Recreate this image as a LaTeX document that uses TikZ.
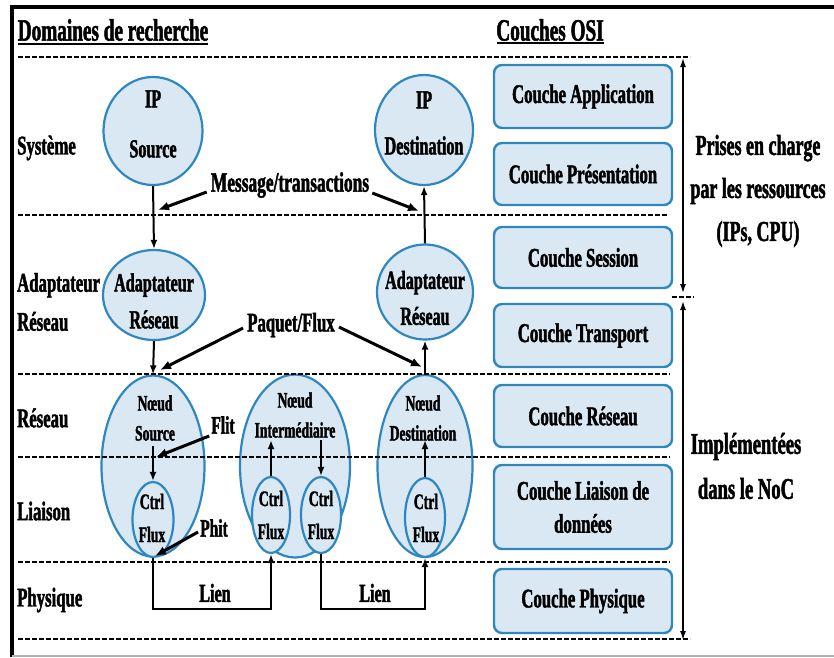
\documentclass[tikz,border=0pt]{standalone}
\usepackage{fontspec}
\setmainfont{Liberation Serif}[FakeStretch=0.62, BoldFeatures={FakeBold=1.6}]
\usetikzlibrary{arrows.meta,shapes.geometric}

\definecolor{cellfill}{HTML}{DAE8F3}
\definecolor{cellline}{HTML}{2F87C0}

\tikzset{
  tx/.style 2 args={inner sep=0pt, align=center, font=\bfseries\fontsize{#1}{#2}\selectfont},
  bub/.style 2 args={ellipse, draw=cellline, fill=cellfill, line width=2.2pt,
    inner sep=0pt, minimum width=#1, minimum height=#2},
  layerbox/.style={draw=cellline, fill=cellfill, line width=2.4pt, rounded corners=8pt,
    minimum width=178pt, inner sep=0pt, align=center,
    font=\bfseries\fontsize{27}{33}\selectfont},
  sepline/.style={dashed, dash pattern=on 5pt off 2pt, line width=1.4pt},
  varrow/.style={line width=2pt, -{Latex[length=9pt,width=7pt]}},
  bigarrow/.style={line width=3pt, -{Latex[length=11pt,width=9pt]}},
  dblarrow/.style={line width=1.4pt, {Latex[length=9pt,width=6pt]}-{Latex[length=9pt,width=6pt]}},
}

\begin{document}
\begin{tikzpicture}[x=1pt, y=-1pt]
\useasboundingbox (0,0) rectangle (834,657);
\fill[white] (0,0) rectangle (834,657);

% outer frame: heavy rule on top and left, light rule at the bottom
\draw[line width=4.5pt, line join=miter] (12,657) -- (12,7) -- (834,7);
\draw[gray!60, line width=2pt] (12,656) -- (834,656);

% column headings
\node[tx={31}{31}] (hdom) at (113,30) {Domaines de recherche};
\draw[line width=2pt] (18,44) -- (208,44);
\node[tx={31}{31}] (hosi) at (550,30) {Couches OSI};
\draw[line width=2pt] (497,43) -- (604,43);

% research-domain row labels
\node[tx={27}{27}, anchor=west] (lsys) at (17,148) {Système};
\node[tx={27}{39}, anchor=west, align=left] (lada) at (17,302) {Adaptateur\\Réseau};
\node[tx={27}{27}, anchor=west] (lres) at (17,418) {Réseau};
\node[tx={27}{27}, anchor=west] (llia) at (17,511) {Liaison};
\node[tx={27}{27}, anchor=west] (lphy) at (17,600) {Physique};

% IP cores and network adapters
\node[bub={99pt}{108pt}] (ipsrc) at (153,131) {};
\node[bub={98pt}{110pt}] (ipdst) at (424,130) {};
\node[bub={102pt}{90pt}] (adsrc) at (154,295) {};
\node[bub={96pt}{95pt}] (addst) at (425,292) {};

% NoC routers and their flow-control units
\node[bub={103pt}{181pt}] (nsrc) at (153,466) {};
\node[bub={110pt}{183pt}] (nint) at (295,466) {};
\node[bub={95pt}{182pt}] (ndst) at (425,466) {};
\node[bub={41pt}{75pt}] (csrc) at (153,519.5) {};
\node[bub={38pt}{76pt}] (cint1) at (271,515) {};
\node[bub={40pt}{76pt}] (cint2) at (321,515) {};
\node[bub={40pt}{79pt}] (cdst) at (425,517.5) {};

% OSI layers
\node[layerbox, minimum height=63pt] (oapp) at (583,96.5) {Couche Application};
\node[layerbox, minimum height=62pt] (opre) at (583,174) {Couche Présentation};
\node[layerbox, minimum height=61pt] (oses) at (583,257.5) {Couche Session};
\node[layerbox, minimum height=63pt] (otra) at (583,335.5) {Couche Transport};
\node[layerbox, minimum height=62pt] (ores) at (583,416) {Couche Réseau};
\node[layerbox, minimum height=84pt] (olia) at (583,507) {Couche Liaison de\\données};
\node[layerbox, minimum height=64pt] (ophy) at (583,601) {Couche Physique};

% layer separators
\draw[sepline] (18,57) -- (690,57);
\draw[sepline] (18,215) -- (668,215);
\draw[sepline] (18,374) -- (670,374);
\draw[sepline] (18,457) -- (670,457);
\draw[sepline] (18,562) -- (670,562);
\draw[sepline] (18,639) -- (690,639);
\draw[sepline] (672,297) -- (694,297);

% texts inside the bubbles
\node[tx={26}{50}] (ipsrct) at (153,124) {IP\\Source};
\node[tx={26}{46}] (ipdstt) at (424,123) {IP\\Destination};
\node[tx={26}{37}] (adsrct) at (154,301) {Adaptateur\\Réseau};
\node[tx={26}{36}] (addstt) at (425,298) {Adaptateur\\Réseau};
\node[tx={22}{30}] (nsrct) at (155,418) {Nœud\\Source};
\node[tx={22}{30}] (nintt) at (295,415) {Nœud\\Intermédiaire};
\node[tx={22}{30}] (ndstt) at (423,418) {Nœud\\Destination};
\node[tx={22}{33}] (csrct) at (152,518) {Ctrl\\Flux};
\node[tx={22}{33}] (cint1t) at (271,515) {Ctrl\\Flux};
\node[tx={22}{33}] (cint2t) at (321,515) {Ctrl\\Flux};
\node[tx={22}{33}] (cdstt) at (426,518) {Ctrl\\Flux};

% vertical data path
\draw[varrow] (ipsrc.south) -- (adsrc.north);
\draw[varrow] (addst.north) -- (ipdst.south);
\draw[varrow] (adsrc.south) -- (nsrc.north);
\draw[varrow] (ndst.north) -- (addst.south);

\coordinate (fsrc) at (153,446);
\coordinate (fint1) at (271,440);
\coordinate (fint2) at (321,440);
\coordinate (fdst) at (425,440);
\draw[varrow] (fsrc) -- (csrc.north);
\draw[varrow] (cint1.north) -- (fint1);
\draw[varrow] (fint2) -- (cint2.north);
\draw[varrow] (cdst.north) -- (fdst);

% physical links
\draw[varrow, line width=2.4pt] (csrc.south) -- ++(0,51) -| (cint1.south);
\draw[varrow, line width=2.4pt] (cint2.south) -- ++(0,55) -| (cdst.south);
\node[tx={26}{26}] (lien1) at (215,593) {Lien};
\node[tx={26}{26}] (lien2) at (375,593) {Lien};

% granularity callouts
\node[tx={28}{28}] (msg) at (290,185) {Message/transactions};
\coordinate (msgL) at (158,210);
\coordinate (msgR) at (419,211);
\draw[bigarrow] ([shift={(-4,7)}]msg.west) -- (msgL);
\draw[bigarrow] ([shift={(3,8)}]msg.east) -- (msgR);

\node[tx={27}{27}] (pkt) at (291,325) {Paquet/Flux};
\coordinate (pktL) at (160,370);
\coordinate (pktR) at (422,367);
\draw[bigarrow] ([shift={(-4,3)}]pkt.west) -- (pktL);
\draw[bigarrow] ([shift={(4,2)}]pkt.east) -- (pktR);

\node[tx={25}{25}] (flit) at (223,425) {Flit};
\coordinate (flitP) at (156,457);
\draw[bigarrow] ([shift={(-2,11)}]flit.west) -- (flitP);

\node[tx={25}{25}] (phit) at (214,528) {Phit};
\coordinate (phitP) at (155,556);
\draw[bigarrow] ([shift={(-2,4)}]phit.west) -- (phitP);

% scope of the OSI layers
\coordinate (r1t) at (683,58);
\coordinate (r1b) at (683,293);
\coordinate (r2t) at (683,301);
\coordinate (r2b) at (683,640);
\draw[dblarrow] (r1t) -- (r1b);
\draw[dblarrow] (r2t) -- (r2b);
\node[tx={29}{43}] (prise) at (758,191) {Prises en charge\\par les ressources\\(IPs, CPU)};
\node[tx={30}{45}] (impl) at (746,466) {Implémentées\\dans le NoC};
\end{tikzpicture}
\end{document}
